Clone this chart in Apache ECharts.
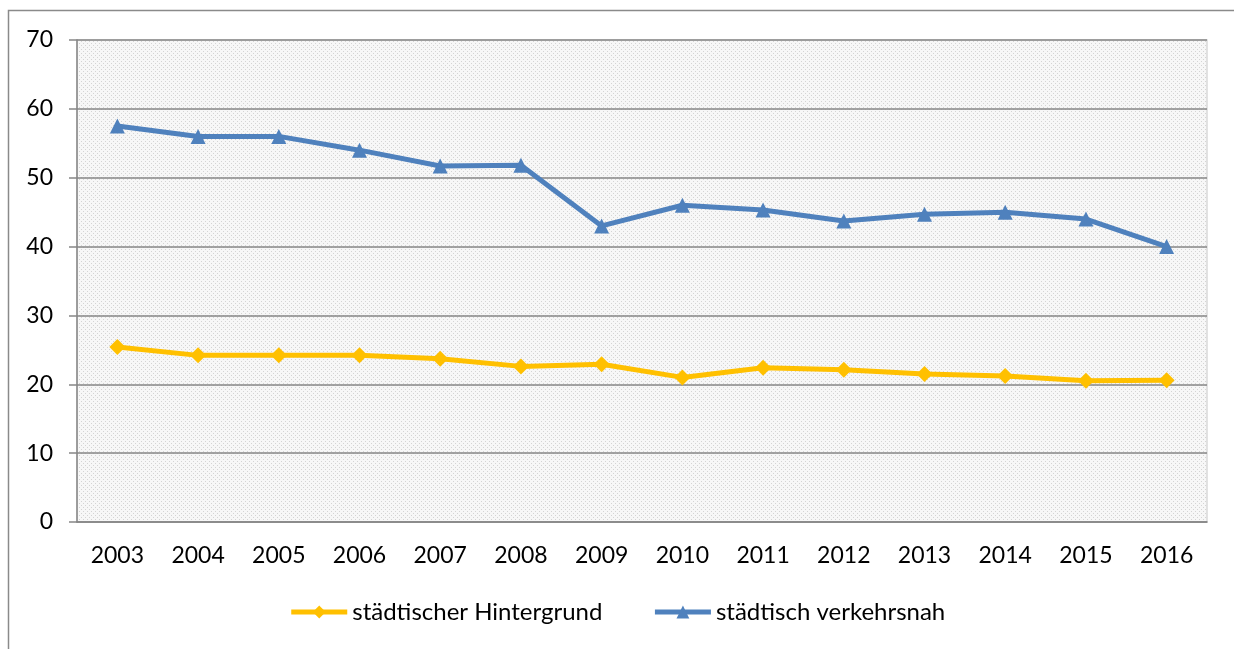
<!DOCTYPE html>
<html>
<head>
<meta charset="utf-8">
<script src="https://cdn.jsdelivr.net/npm/echarts@6/dist/echarts.min.js"></script>
<style>
  html, body { margin: 0; padding: 0; background: #fff; }
  #chart { width: 1234px; height: 649px; }
</style>
</head>
<body>
<div id="chart"></div>
<script>
const years = ['2003', '2004', '2005', '2006', '2007', '2008', '2009', '2010', '2011', '2012', '2013', '2014', '2015', '2016'];
const hintergrund = [25.4, 24.2, 24.2, 24.2, 23.7, 22.6, 22.9, 21.0, 22.4, 22.1, 21.5, 21.2, 20.5, 20.6];
const verkehrsnah = [57.5, 56.0, 56.0, 54.0, 51.7, 51.8, 43.0, 46.0, 45.3, 43.7, 44.7, 45.0, 44.0, 40.0];

// dotted fill like the original plot area
const pat = document.createElement('canvas');
pat.width = 4;
pat.height = 4;
const pctx = pat.getContext('2d');
pctx.fillStyle = '#f7f7f7';
pctx.fillRect(0, 0, 4, 4);
pctx.fillStyle = '#d4d4d4';
pctx.fillRect(1, 1, 1, 1);
pctx.fillRect(3, 3, 1, 1);

const font = 'Lato, "Open Sans", sans-serif';
const chart = echarts.init(document.getElementById('chart'));
chart.setOption({
  animation: false,
  backgroundColor: '#fff',
  textStyle: { fontFamily: font },
  graphic: [{
    type: 'rect',
    shape: { x: 8.5, y: 10.5, width: 1300, height: 700 },
    style: { fill: 'none', stroke: '#8a8a8a', lineWidth: 1.5 },
    silent: true
  }],
  grid: {
    left: 77, right: 27, top: 40, bottom: 127,
    show: true,
    backgroundColor: { image: pat, repeat: 'repeat' },
    borderColor: '#d9d9d9',
    borderWidth: 1.5
  },
  legend: {
    bottom: 20,
    left: 'center',
    itemGap: 50,
    itemWidth: 56,
    itemHeight: 16,
    lineStyle: { width: 5 },
    textStyle: { fontSize: 24, color: '#000', fontFamily: font },
    data: ['städtischer Hintergrund', 'städtisch verkehrsnah']
  },
  xAxis: {
    type: 'category',
    data: years,
    axisLine: { lineStyle: { color: '#868686', width: 1.5 } },
    axisTick: { length: 8, lineStyle: { color: '#868686', width: 1.5 } },
    axisLabel: { fontSize: 23, color: '#000', margin: 22, fontFamily: font }
  },
  yAxis: {
    type: 'value',
    min: 0,
    max: 70,
    interval: 10,
    axisLine: { show: true, lineStyle: { color: '#868686', width: 1.5 } },
    axisTick: { show: true, length: 8, lineStyle: { color: '#868686', width: 1.5 } },
    axisLabel: { fontSize: 23, color: '#000', margin: 24, fontFamily: font },
    splitLine: { lineStyle: { color: '#868686', width: 1.5 } }
  },
  series: [
    {
      name: 'städtischer Hintergrund',
      type: 'line',
      data: hintergrund,
      symbol: 'diamond',
      symbolSize: 16,
      lineStyle: { color: '#FFC000', width: 5 },
      itemStyle: { color: '#FFC000' }
    },
    {
      name: 'städtisch verkehrsnah',
      type: 'line',
      data: verkehrsnah,
      symbol: 'triangle',
      symbolSize: 15,
      lineStyle: { color: '#4F81BD', width: 5 },
      itemStyle: { color: '#4F81BD' }
    }
  ]
});
</script>
</body>
</html>
